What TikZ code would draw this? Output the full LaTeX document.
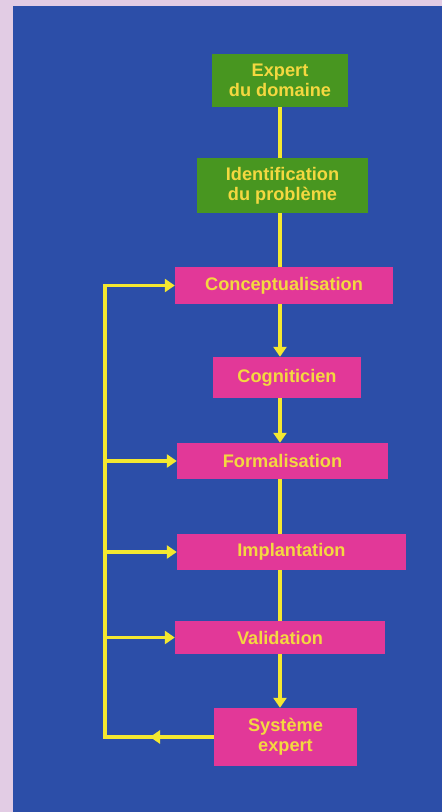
\documentclass[tikz,border=0pt]{standalone}
\usepackage{fontspec}
\setmainfont{Liberation Sans}
\usetikzlibrary{arrows.meta}
\definecolor{bgblue}{RGB}{44,78,168}
\definecolor{lilac}{RGB}{226,204,228}
\definecolor{boxgreen}{RGB}{72,150,32}
\definecolor{boxpink}{RGB}{226,56,152}
\definecolor{txtyellow}{RGB}{244,216,64}
\definecolor{lineyellow}{RGB}{244,232,48}
\tikzset{
  stepbox/.style={rectangle, inner sep=0pt, text=txtyellow, align=center,
    font=\fontsize{18.2}{20}\selectfont\bfseries},
  greenbox/.style={stepbox, fill=boxgreen},
  pinkbox/.style={stepbox, fill=boxpink},
  flow/.style={draw=lineyellow, line width=3.4pt},
  flowarrow/.style={flow, -{Triangle[width=13pt,length=10pt]}},
}
\begin{document}
\begin{tikzpicture}[x=1pt,y=-1pt]
\fill[lilac] (0,0) rectangle (442,812);
\fill[bgblue] (13,6) rectangle (442,812);
\useasboundingbox (0,0) rectangle (442,812);

\node[greenbox, minimum width=136pt, minimum height=53pt] (exp) at (280,80.5) {Expert\\du domaine};
\node[greenbox, minimum width=171pt, minimum height=55pt] (idp) at (282.5,185.5) {Identification\\du problème};
\node[pinkbox, minimum width=218pt, minimum height=37pt] (con) at (284,285.5) {Conceptualisation};
\node[pinkbox, minimum width=148pt, minimum height=41pt] (cog) at (287,377.5) {Cogniticien};
\node[pinkbox, minimum width=211pt, minimum height=36pt] (form) at (282.5,461) {Formalisation};
\node[pinkbox, minimum width=229pt, minimum height=36pt] (impl) at (291.5,552) {Implantation};
\node[pinkbox, minimum width=210pt, minimum height=33pt] (val) at (280,637.5) {Validation};
\node[pinkbox, minimum width=143pt, minimum height=58pt] (sys) at (285.5,737) {Système\\expert};

\coordinate (spine) at (280,0);
\coordinate (left) at (105,0);

% main vertical flow
\draw[flow] (exp.south) -- (spine |- idp.north);
\draw[flow] (spine |- idp.south) -- (spine |- con.north);
\draw[flowarrow] (spine |- con.south) -- (spine |- cog.north);
\draw[flowarrow] (spine |- cog.south) -- (spine |- form.north);
\draw[flow] (spine |- form.south) -- (spine |- impl.north);
\draw[flow] (spine |- impl.south) -- (spine |- val.north);
\draw[flowarrow] (spine |- val.south) -- (spine |- sys.north);

% feedback loop
\coordinate (mid) at (150,737);
\draw[flow, line join=miter] (sys.west) -- (left |- sys.west) -- (left |- con.west) -- ([xshift=-8pt]con.west);
\draw[flowarrow] (sys.west) -- (mid);
\draw[flowarrow] (left |- con.west) -- (con.west);
\draw[flowarrow] (left |- form.west) -- (form.west);
\draw[flowarrow] (left |- impl.west) -- (impl.west);
\draw[flowarrow] (left |- val.west) -- (val.west);
\end{tikzpicture}
\end{document}
